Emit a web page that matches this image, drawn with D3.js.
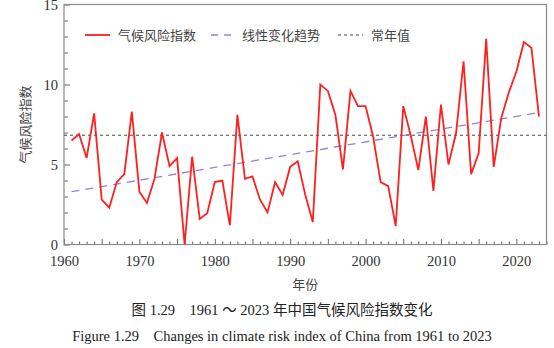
<!DOCTYPE html>
<html>
<head>
<meta charset="utf-8">
<script src="https://cdn.jsdelivr.net/npm/d3@7"></script>
<style>
  body { margin: 0; background: #fff; }
  svg text { white-space: pre; }
</style>
</head>
<body>
<div id="chart-container"></div>
<script>
// climate risk index, 1961-2023
const years = d3.range(1961, 2024);
const riskIndex = [
    6.5, 6.9, 5.4, 8.2, 2.8, 2.3, 3.9, 4.4, 8.3, 3.3,
    2.6, 4.1, 7.0, 4.9, 5.4, 0.0, 5.5, 1.6, 1.95, 3.9,
    4.0, 1.2, 8.1, 4.1, 4.25, 2.8, 2.0, 3.9, 3.1, 4.85,
    5.2, 3.1, 1.4, 10.0, 9.6, 8.1, 4.7, 9.6, 8.65, 8.65,
    6.75, 3.9, 3.65, 1.15, 8.65, 6.8, 4.65, 8.0, 3.35, 8.75,
    5.0, 6.95, 11.45, 4.4, 5.7, 12.85, 4.85, 7.9, 9.5, 10.8,
    12.65, 12.3, 8.0
];
const trendEnds = [[1961, 3.3], [2023, 8.25]];
const normalValue = 6.83;

const xTicks = [1960, 1970, 1980, 1990, 2000, 2010, 2020];
const yTicks = [0, 5, 10, 15];
const legendNames = ["气候风险指数", "线性变化趋势", "常年值"];

const svgWidth = 554;
const svgHeight = 348;
const plot = { left: 64, right: 546.5, top: 4.5, bottom: 244.5 };

const svg = d3.select("#chart-container")
    .append("svg")
    .attr("width", svgWidth)
    .attr("height", svgHeight);

const x = d3.scaleLinear()
    .domain([1960, 2024])
    .range([plot.left, plot.right]);

const y = d3.scaleLinear()
    .domain([0, 15])
    .range([plot.bottom, plot.top]);

const serif = "'Liberation Serif', 'Times New Roman', serif";
const cjk = "'Liberation Serif', 'Noto Sans CJK SC', serif";

// bottom axis: a tick every year, longer every 5, labels every 10
const xAxis = svg.append("g")
    .attr("transform", `translate(0, ${plot.bottom})`)
    .call(d3.axisBottom(x)
        .tickValues(d3.range(1960, 2025))
        .tickSize(-3)
        .tickPadding(11)
        .tickFormat(d => xTicks.includes(d) ? d : ""));
xAxis.select(".domain").remove();
xAxis.selectAll(".tick line")
    .attr("stroke", "#666")
    .attr("y2", d => d % 5 === 0 ? -5.5 : -3);
xAxis.selectAll("text")
    .attr("font-family", serif)
    .attr("font-size", 14.5)
    .attr("fill", "#333");

// left axis: minor ticks every unit
const yAxis = svg.append("g")
    .attr("transform", `translate(${plot.left}, 0)`)
    .call(d3.axisLeft(y)
        .tickValues(d3.range(0, 16))
        .tickSize(-4)
        .tickPadding(6)
        .tickFormat(d => yTicks.includes(d) ? d : ""));
yAxis.select(".domain").remove();
yAxis.selectAll(".tick line")
    .attr("stroke", "#666")
    .attr("x2", d => d % 5 === 0 ? 6 : 4);
yAxis.selectAll("text")
    .attr("font-family", serif)
    .attr("font-size", 14.5)
    .attr("fill", "#333");

// frame
svg.append("rect")
    .attr("x", plot.left)
    .attr("y", plot.top)
    .attr("width", plot.right - plot.left)
    .attr("height", plot.bottom - plot.top)
    .attr("fill", "none")
    .attr("stroke", "#8a8a8a")
    .attr("stroke-width", 1.2);

// normal value
svg.append("line")
    .attr("x1", plot.left)
    .attr("x2", plot.right)
    .attr("y1", y(normalValue))
    .attr("y2", y(normalValue))
    .attr("stroke", "#444")
    .attr("stroke-width", 1)
    .attr("stroke-dasharray", "3,3");

// linear trend
svg.append("path")
    .datum(trendEnds)
    .attr("fill", "none")
    .attr("stroke", "#9b80d2")
    .attr("stroke-width", 1.3)
    .attr("stroke-dasharray", "8,6")
    .attr("d", d3.line().x(d => x(d[0])).y(d => y(d[1])));

// index series
svg.append("path")
    .datum(years.map((yr, i) => [yr, riskIndex[i]]))
    .attr("fill", "none")
    .attr("stroke", "#ff1f1f")
    .attr("stroke-width", 1.8)
    .attr("stroke-linejoin", "miter")
    .attr("d", d3.line().x(d => x(d[0])).y(d => y(d[1])));

// legend
const legendY = 35;
const legendItems = [
    { name: legendNames[0], x0: 85, x1: 110, color: "#ff1f1f", dash: null, width: 1.8 },
    { name: legendNames[1], x0: 211, x1: 234, color: "#9b80d2", dash: "7,6", width: 1.3 },
    { name: legendNames[2], x0: 338, x1: 363, color: "#444", dash: "3,3", width: 1 }
];
legendItems.forEach(item => {
    svg.append("line")
        .attr("x1", item.x0)
        .attr("x2", item.x1)
        .attr("y1", legendY)
        .attr("y2", legendY)
        .attr("stroke", item.color)
        .attr("stroke-width", item.width)
        .attr("stroke-dasharray", item.dash);
    svg.append("text")
        .attr("x", item.x1 + 8)
        .attr("y", legendY)
        .attr("dominant-baseline", "central")
        .attr("font-family", cjk)
        .attr("font-size", 13)
        .attr("fill", "#444")
        .text(item.name);
});

// axis titles
svg.append("text")
    .attr("transform", `translate(25, ${(plot.top + plot.bottom) / 2}) rotate(-90)`)
    .attr("text-anchor", "middle")
    .attr("dominant-baseline", "central")
    .attr("font-family", cjk)
    .attr("font-size", 13)
    .attr("fill", "#444")
    .text("气候风险指数");

svg.append("text")
    .attr("x", (plot.left + plot.right) / 2)
    .attr("y", 284)
    .attr("text-anchor", "middle")
    .attr("dominant-baseline", "central")
    .attr("font-family", cjk)
    .attr("font-size", 13)
    .attr("fill", "#444")
    .text("年份");

// captions
svg.append("text")
    .attr("x", 282)
    .attr("y", 310)
    .attr("text-anchor", "middle")
    .attr("dominant-baseline", "central")
    .attr("font-family", cjk)
    .attr("font-size", 14.5)
    .attr("fill", "#222")
    .text("图 1.29    1961 ～ 2023 年中国气候风险指数变化");

svg.append("text")
    .attr("x", 282)
    .attr("y", 336)
    .attr("text-anchor", "middle")
    .attr("dominant-baseline", "central")
    .attr("font-family", serif)
    .attr("font-size", 14.5)
    .attr("fill", "#222")
    .text("Figure 1.29    Changes in climate risk index of China from 1961 to 2023");
</script>
</body>
</html>
